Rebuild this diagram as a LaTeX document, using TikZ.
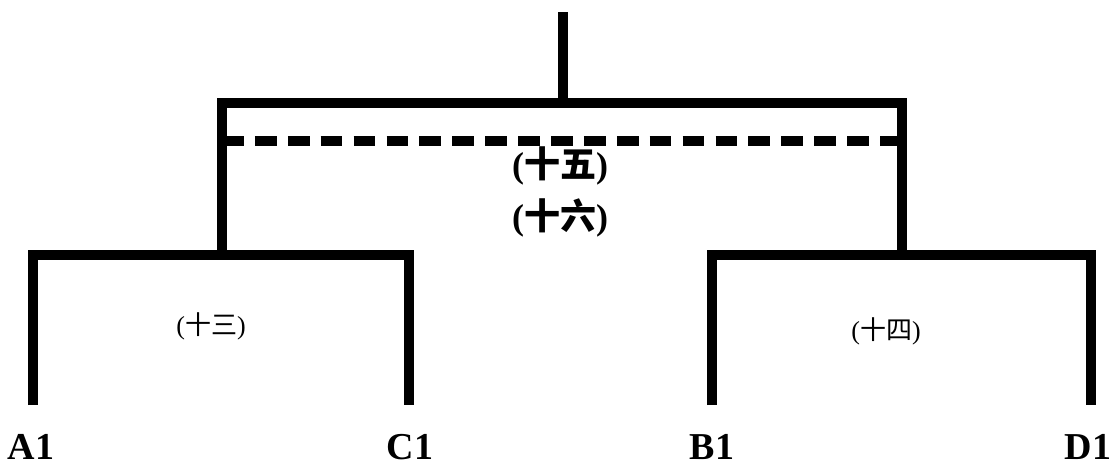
\documentclass[tikz,border=0pt]{standalone}
\usepackage{fontspec}
\setmainfont{Liberation Serif}
\newfontfamily\cjk{Noto Sans CJK SC}
\usetikzlibrary{positioning}
\newcommand{\zhlabel}[1]{({\cjk #1})}

\begin{document}
\begin{tikzpicture}[
    x=0.5pt, y=-0.5pt,
    bar/.style={line width=5pt, line join=miter},
    leaf/.style={font=\fontsize{19pt}{21pt}\selectfont\bfseries, inner sep=0pt},
    big/.style={font=\fontsize{18pt}{20pt}\selectfont\bfseries, inner sep=0pt},
    small/.style={font=\fontsize{13pt}{15pt}\selectfont, inner sep=0pt}
]
    \useasboundingbox (0,0) rectangle (1118,466);

    % leaves
    \node[leaf] (a1) at (31,447) {A1};
    \node[leaf] (c1) at (410,447) {C1};
    \node[leaf] (b1) at (712,447) {B1};
    \node[leaf] (d1) at (1088,447) {D1};

    % leg ends and joints
    \coordinate (a1e) at (33,405);
    \coordinate (c1e) at (409,405);
    \coordinate (b1e) at (712,405);
    \coordinate (d1e) at (1091,405);
    \coordinate (lj) at (222,255);
    \coordinate (rj) at (902,255);
    \coordinate (root) at (563,12);
    \coordinate (topj) at (563,103);

    % first round brackets
    \draw[bar] (a1e) |- (lj) -| (c1e);
    \draw[bar] (b1e) |- (rj) -| (d1e);

    % final bracket
    \draw[bar] (lj) |- (topj) -| (rj);
    \draw[bar] (root) -- (topj);

    % dashed line
    \coordinate (dl) at (222,141);
    \coordinate (dr) at (902,141);
    \draw[line width=5pt, dash pattern=on 10.85pt off 5.6pt] (dl) -- (dr);

    % round labels
    \node[big] (r15) at (560,166) {\zhlabel{十五}};
    \node[big] (r16) at (560,218) {\zhlabel{十六}};
    \node[small] (r13) at (211,326) {\zhlabel{十三}};
    \node[small] (r14) at (886,331) {\zhlabel{十四}};
\end{tikzpicture}
\end{document}
